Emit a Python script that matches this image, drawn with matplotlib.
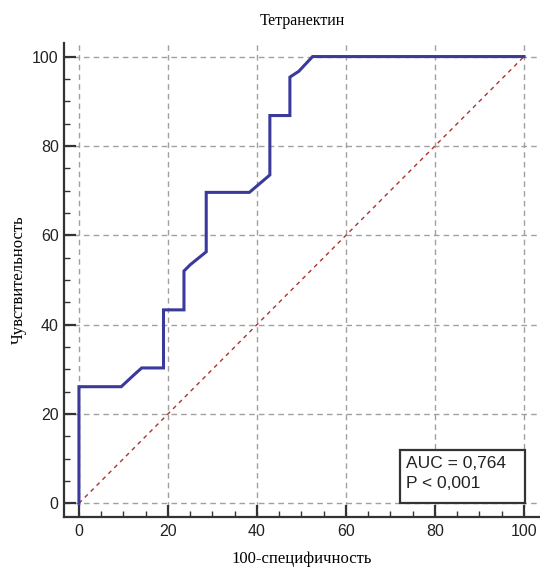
import matplotlib as mpl
import numpy as np
import matplotlib.pyplot as plt
from matplotlib.patches import Rectangle
from matplotlib.ticker import MultipleLocator

mpl.use("Agg")

# ROC curve points (100-specificity, sensitivity)
fpr = [0, 0, 9.5, 12.2, 14.1, 19.0, 19.0, 23.6, 23.6, 25.0, 28.6, 28.6,
       38.3, 42.9, 42.9, 47.4, 47.4, 49.4, 52.5, 100]
tpr = [0, 26.1, 26.1, 28.6, 30.3, 30.3, 43.3, 43.3, 52.0, 53.4, 56.3, 69.6,
       69.6, 73.5, 86.8, 86.8, 95.4, 96.7, 100, 100]

# reference diagonal
diag = [0, 100]

title = "Тетранектин"
xlabel = "100-специфичность"
ylabel = "Чувствительность"
auc_text = ["AUC = 0,764", "P < 0,001"]

serif = ["Liberation Serif", "DejaVu Serif"]
sans = ["Liberation Sans", "DejaVu Sans"]

fig = plt.figure(figsize=(5.4, 5.68), dpi=100)
ax = fig.add_axes([0.119, 0.0903, 0.881, 0.8345])

ax.set_xlim(-3.3, 103.6)
ax.set_ylim(-3.0, 103.1)

# grid
ax.grid(True, which="major", color="#a0a0a0", linestyle=(0, (4, 3)), linewidth=1.0)
ax.set_axisbelow(True)

# diagonal and ROC curve
ax.plot(diag, diag, color="#b03030", linestyle=(0, (3, 3)), linewidth=1.0, zorder=2)
ax.plot(fpr, tpr, color="#3a3a9c", linewidth=2.2, zorder=3,
        solid_joinstyle="miter")

# spines
for side in ["top", "right"]:
    ax.spines[side].set_visible(False)
for side in ["left", "bottom"]:
    ax.spines[side].set_color("#333333")
    ax.spines[side].set_linewidth(1.6)

# ticks
ax.xaxis.set_major_locator(MultipleLocator(20))
ax.yaxis.set_major_locator(MultipleLocator(20))
ax.xaxis.set_minor_locator(MultipleLocator(5))
ax.yaxis.set_minor_locator(MultipleLocator(5))
ax.tick_params(which="major", direction="in", length=8.5, width=1.6,
               color="#333333", labelsize=11.5, labelcolor="#222222")
ax.tick_params(which="minor", direction="in", length=4.0, width=1.0,
               color="#333333")
ax.tick_params(axis="x", which="major", pad=5)
ax.tick_params(axis="y", which="major", pad=4)
ax.set_xticks([0, 20, 40, 60, 80, 100])
ax.set_yticks([0, 20, 40, 60, 80, 100])
for lab in ax.get_xticklabels() + ax.get_yticklabels():
    lab.set_family(sans)

# labels and title
ax.set_title(title, fontsize=11.5, family=serif, pad=13)
ax.set_xlabel(xlabel, fontsize=12, family=serif, labelpad=9)
ax.set_ylabel(ylabel, fontsize=12, family=serif, labelpad=4)

# AUC box
box = Rectangle((72.1, 0.1), 28.1, 11.9, facecolor="white",
                edgecolor="#333333", linewidth=1.6, zorder=4)
ax.add_patch(box)
ax.text(73.6, 9.0, auc_text[0], fontsize=12.5, family=sans, va="center",
        ha="left", color="#222222", zorder=5)
ax.text(73.6, 4.4, auc_text[1], fontsize=12.5, family=sans, va="center",
        ha="left", color="#222222", zorder=5)

plt.savefig("out.png", dpi=100)
